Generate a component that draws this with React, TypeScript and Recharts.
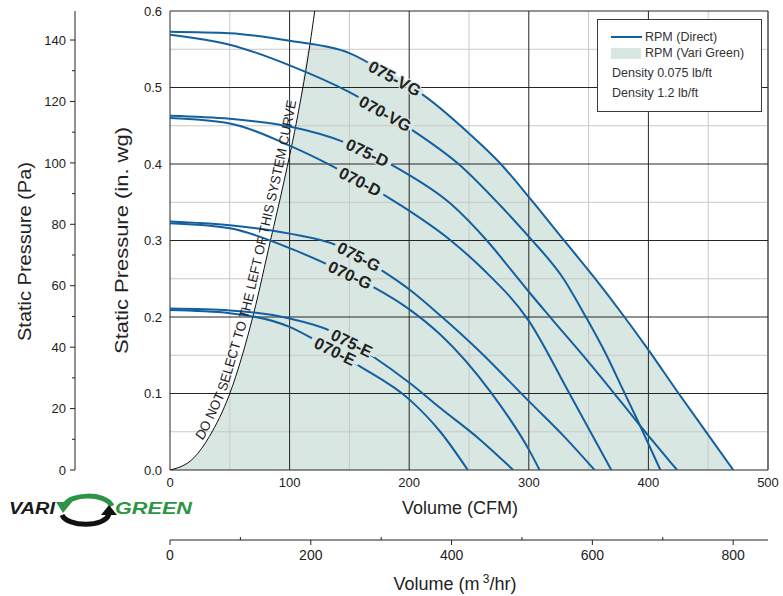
import React from "react";
import {
  Area,
  ComposedChart,
  Legend,
  Line,
  ReferenceDot,
  ReferenceLine,
  XAxis,
  YAxis,
} from "recharts";

type Pt = [number, number];

// volume (CFM) vs static pressure (in. wg)
const rpm075VG: Pt[] = [
  [0, 0.573], [50, 0.571], [100, 0.561], [150, 0.545], [188, 0.512], [210, 0.492],
  [250, 0.44], [276, 0.401], [301, 0.355], [329, 0.301], [355, 0.251], [380, 0.2],
  [400, 0.157], [424, 0.103], [450, 0.046], [471, 0],
];
const rpm070VG: Pt[] = [
  [0, 0.569], [50, 0.556], [100, 0.529], [150, 0.494], [201, 0.446], [242, 0.399],
  [276, 0.346], [300, 0.305], [329, 0.25], [347, 0.202], [365, 0.15], [379, 0.104],
  [390, 0.068], [410, 0],
];
const rpm075D: Pt[] = [
  [0, 0.463], [50, 0.459], [100, 0.449], [145, 0.429], [192, 0.393], [234, 0.349],
  [266, 0.298], [284, 0.264], [300, 0.233], [320, 0.196], [350, 0.141], [372, 0.099],
  [390, 0.064], [424, 0],
];
const rpm070D: Pt[] = [
  [0, 0.46], [50, 0.453], [100, 0.424], [136, 0.397], [192, 0.347], [234, 0.301],
  [262, 0.262], [300, 0.195], [334, 0.1], [369, 0],
];
const rpm075G: Pt[] = [
  [0, 0.325], [50, 0.32], [100, 0.309], [139, 0.294], [158, 0.279], [177, 0.261],
  [201, 0.235], [226, 0.202], [259, 0.155], [300, 0.09], [330, 0.043], [355, 0],
];
const rpm070G: Pt[] = [
  [0, 0.3225], [50, 0.316], [100, 0.29], [150, 0.255], [169, 0.24], [201, 0.209],
  [226, 0.177], [268, 0.102], [301, 0.024], [309, 0],
];
const rpm075E: Pt[] = [
  [0, 0.211], [50, 0.2085], [100, 0.198], [134, 0.182], [152, 0.166], [170, 0.148],
  [201, 0.113], [226, 0.081], [259, 0.04], [287, 0],
];
const rpm070E: Pt[] = [
  [0, 0.209], [50, 0.205], [100, 0.187], [120, 0.171], [138, 0.155], [156, 0.138],
  [201, 0.091], [226, 0.05], [249, 0],
];
const systemCurve: Pt[] = [
  [0, 0], [20, 0.016], [33, 0.044], [50, 0.1], [70, 0.205], [84, 0.3], [95, 0.375],
  [107, 0.465], [117, 0.556], [121, 0.6],
];
// where the system curve meets the 075-VG curve
const SYS_CROSS = 117;

const curveNames = ["075-VG", "070-VG", "075-D", "070-D", "075-G", "070-G", "075-E", "070-E"];
const curvePoints = [rpm075VG, rpm070VG, rpm075D, rpm070D, rpm075G, rpm070G, rpm075E, rpm070E];
// label anchor on each curve: cfm, in. wg, text angle
const labelQ = [188, 180, 165, 159, 158, 150.5, 152, 138];
const labelP = [0.512, 0.466, 0.415, 0.377, 0.279, 0.255, 0.166, 0.155];
const labelAngle = [28, 29, 25, 27, 27, 25, 26, 26];

const cfmTicks = [0, 100, 200, 300, 400, 500];
const cfmMinor = [50, 150, 250, 350, 450];
const wgTicks = [0, 0.1, 0.2, 0.3, 0.4, 0.5, 0.6];
const wgMinor = [0.05, 0.15, 0.25, 0.35, 0.45, 0.55];
const paTicks = [0, 10, 20, 30, 40, 50, 60, 70, 80, 90, 100, 110, 120, 130, 140];
const m3Ticks = [0, 100, 200, 300, 400, 500, 600, 700, 800];
const PA_MAX = 0.6 * 249.09; // 0.6 in. wg
const M3_MAX = 500 * 1.699; // 500 CFM

const legendText = ["RPM (Direct)", "RPM (Vari Green)", "Density 0.075 lb/ft", "Density 1.2 lb/ft"];
const systemText = "DO NOT SELECT TO THE LEFT OF THIS SYSTEM CURVE";

const FONT = '"Liberation Sans", Arial, Helvetica, sans-serif';
const BLUE = "#14609f";
const FILL = "#d9e7e2";
const GREEN = "#2e9445";

const toRows = (pts: Pt[]) => pts.map(([q, p]) => ({ q, p }));

const fillRows = toRows([
  ...systemCurve.filter(([q]) => q <= SYS_CROSS),
  ...rpm075VG.filter(([q]) => q > SYS_CROSS),
]);
// span of the metric axis, so it gets a domain of its own
const m3Span = [{ q: 0, p: 0 }, { q: M3_MAX, p: 0 }];

// pixel size of one CFM / one in. wg for the 598x459 plot
const SX = 598 / 500;
const SY = 459 / 0.6;

function CurveTag({ cx, cy, text, angle }: any) {
  const w = text.length * 9.8 + 4;
  return (
    <g transform={`translate(${cx},${cy}) rotate(${angle})`}>
      <rect x={-w / 2} y={-3} width={w} height={6} fill={FILL} />
      <text
        textAnchor="middle"
        dy="0.36em"
        fontSize={16.5}
        fontWeight="bold"
        fontFamily={FONT}
        fill="#222"
        stroke={FILL}
        strokeWidth={2}
        paintOrder="stroke"
      >
        {text}
      </text>
    </g>
  );
}

function SystemTag({ cx, cy }: any) {
  const d = systemCurve
    .map(([q, p], i) => `${i ? "L" : "M"}${cx + q * SX - 4},${cy - p * SY}`)
    .join(" ");
  return (
    <g>
      <path id="sys-path" d={d} fill="none" stroke="none" />
      <text fontSize={13.5} fontFamily={FONT} fill="#222">
        <textPath href="#sys-path" startOffset={48} textLength={354} lengthAdjust="spacingAndGlyphs">
          {systemText}
        </textPath>
      </text>
    </g>
  );
}

function PaTick({ x, y, payload }: any) {
  const v = payload.value;
  const ax = x + 8;
  if (v % 20 !== 0) return <line x1={ax - 3} x2={ax} y1={y} y2={y} stroke="#222" />;
  return (
    <g>
      <line x1={ax - 5} x2={ax} y1={y} y2={y} stroke="#222" />
      <text x={x - 1} y={y} dy="0.36em" textAnchor="end" fontSize={13} fontFamily={FONT} fill="#222">
        {v}
      </text>
    </g>
  );
}

function M3Tick({ x, y, payload }: any) {
  const v = payload.value;
  const ay = y - 10;
  if (v % 200 !== 0) return <line x1={x} x2={x} y1={ay} y2={ay - 3} stroke="#222" />;
  return (
    <g>
      <line x1={x} x2={x} y1={ay} y2={ay + 5} stroke="#222" />
      <text x={x} y={y} dy="0.71em" textAnchor="middle" fontSize={14} fontFamily={FONT} fill="#222">
        {v}
      </text>
    </g>
  );
}

function YTitle({ viewBox, text, dx, dy, len }: any) {
  const x = viewBox.x + dx;
  const y = viewBox.y + viewBox.height / 2 + dy;
  return (
    <text
      x={x}
      y={y}
      transform={`rotate(-90 ${x} ${y})`}
      textAnchor="middle"
      dy="0.36em"
      fontSize={18}
      fontFamily={FONT}
      fill="#222"
      textLength={len}
      lengthAdjust="spacingAndGlyphs"
    >
      {text}
    </text>
  );
}

function XTitle({ viewBox, dx, dy, children }: any) {
  return (
    <text
      x={viewBox.x + viewBox.width / 2 + dx}
      y={viewBox.y + dy}
      textAnchor="middle"
      dy="0.36em"
      fontSize={18}
      fontFamily={FONT}
      fill="#222"
    >
      {children}
    </text>
  );
}

function LegendBox() {
  const row = (top: number): React.CSSProperties => ({
    position: "absolute",
    top,
    left: 0,
    height: 16,
    lineHeight: "16px",
    whiteSpace: "nowrap",
  });
  return (
    <div
      style={{
        position: "relative",
        boxSizing: "border-box",
        width: 165,
        height: 93,
        border: "1px solid #3a3a3a",
        background: "#fff",
        fontFamily: FONT,
        fontSize: 12.5,
        color: "#333",
      }}
    >
      <div style={row(9)}>
        <span style={{ position: "absolute", left: 13, top: 7, width: 31, height: 2, background: BLUE }} />
        <span style={{ position: "absolute", left: 47 }}>{legendText[0]}</span>
      </div>
      <div style={row(25)}>
        <span style={{ position: "absolute", left: 13, top: 3, width: 30, height: 11, background: FILL }} />
        <span style={{ position: "absolute", left: 47 }}>{legendText[1]}</span>
      </div>
      <div style={row(45)}>
        <span style={{ position: "absolute", left: 14 }}>{legendText[2]}</span>
      </div>
      <div style={row(65)}>
        <span style={{ position: "absolute", left: 14 }}>{legendText[3]}</span>
      </div>
    </div>
  );
}

function Logo() {
  return (
    <svg width={200} height={40} style={{ position: "absolute", left: 5, top: 490 }}>
      <text x={4} y={24} fontFamily={FONT} fontStyle="italic" fontWeight="bold" fontSize={16}
        fill="#1a1a1a" textLength={46} lengthAdjust="spacingAndGlyphs">VARI</text>
      <path d="M60 15 C64 4, 100 2, 107 16" stroke={GREEN} strokeWidth={5} fill="none" />
      <polygon points="51,12 67,12 58,23" fill={GREEN} />
      <path d="M57 25 C62 37, 100 38, 104 24" stroke="#111" strokeWidth={5} fill="none" />
      <polygon points="96,25 112,25 104,15" fill="#111" />
      <text x={110} y={24} fontFamily={FONT} fontStyle="italic" fontWeight="bold" fontSize={16}
        fill={GREEN} textLength={77} lengthAdjust="spacingAndGlyphs">GREEN</text>
    </svg>
  );
}

const tickStyle = { fontSize: 13, fill: "#222", fontFamily: FONT };

export default function App() {
  return (
    <div style={{ position: "absolute", left: 0, top: 0, width: 783, height: 596, background: "#fff" }}>
      <ComposedChart width={783} height={596} margin={{ top: 11, right: 15, bottom: 0, left: 0 }}>
        <XAxis
          xAxisId="cfm"
          type="number"
          dataKey="q"
          domain={[0, 500]}
          ticks={cfmTicks}
          height={70}
          axisLine={false}
          tickLine={false}
          tickSize={6}
          tickMargin={2}
          tick={tickStyle}
          allowDataOverflow
          label={{ content: (p: any) => <XTitle viewBox={p.viewBox} dx={-9} dy={38}>Volume (CFM)</XTitle> }}
        />
        <XAxis
          xAxisId="m3"
          type="number"
          dataKey="q"
          domain={[0, M3_MAX]}
          ticks={m3Ticks}
          height={56}
          axisLine={{ stroke: "#222" }}
          tickLine={false}
          tickSize={0}
          tickMargin={10}
          tick={<M3Tick />}
          allowDataOverflow
          label={{
            content: (p: any) => (
              <XTitle viewBox={p.viewBox} dx={-14} dy={44}>
                Volume (m<tspan dy={-7} fontSize={12}> 3</tspan><tspan dy={7}>/hr)</tspan>
              </XTitle>
            ),
          }}
        />
        <YAxis
          yAxisId="pa"
          type="number"
          domain={[0, PA_MAX]}
          ticks={paTicks}
          width={75}
          axisLine={{ stroke: "#222" }}
          tickLine={false}
          tickSize={0}
          tickMargin={8}
          tick={<PaTick />}
          allowDataOverflow
          label={{ content: (p: any) => <YTitle viewBox={p.viewBox} text="Static Pressure (Pa)" dx={25} dy={11} len={179} /> }}
        />
        <YAxis
          yAxisId="in"
          type="number"
          domain={[0, 0.6]}
          ticks={wgTicks}
          width={95}
          axisLine={false}
          tickLine={false}
          tickFormatter={(v: number) => v.toFixed(1)}
          tick={tickStyle}
          allowDataOverflow
          label={{ content: (p: any) => <YTitle viewBox={p.viewBox} text="Static Pressure (in. wg)" dx={47} dy={0} len={227} /> }}
        />

        <Area
          xAxisId="cfm"
          yAxisId="in"
          data={fillRows}
          dataKey="p"
          type="monotone"
          fill={FILL}
          fillOpacity={1}
          stroke="none"
          isAnimationActive={false}
        />
        <Line
          xAxisId="m3"
          yAxisId="in"
          data={m3Span}
          dataKey="p"
          stroke="none"
          dot={false}
          legendType="none"
          isAnimationActive={false}
        />

        {cfmMinor.map((v) => (
          <ReferenceLine key={`xm${v}`} xAxisId="cfm" yAxisId="in" x={v} stroke="#c8c8c8" />
        ))}
        {wgMinor.map((v) => (
          <ReferenceLine key={`ym${v}`} xAxisId="cfm" yAxisId="in" y={v} stroke="#c8c8c8" />
        ))}
        {cfmTicks.map((v) => (
          <ReferenceLine key={`xM${v}`} xAxisId="cfm" yAxisId="in" x={v}
            stroke={v === 500 ? "#777" : "#262626"} strokeWidth={v === 500 ? 2 : 1} />
        ))}
        {wgTicks.map((v) => (
          <ReferenceLine key={`yM${v}`} xAxisId="cfm" yAxisId="in" y={v} stroke="#262626" />
        ))}

        <Line
          xAxisId="cfm"
          yAxisId="in"
          data={toRows(systemCurve)}
          dataKey="p"
          type="monotone"
          stroke="#111"
          strokeWidth={1}
          dot={false}
          isAnimationActive={false}
        />
        {curvePoints.map((pts, i) => (
          <Line
            key={curveNames[i]}
            xAxisId="cfm"
            yAxisId="in"
            data={toRows(pts)}
            dataKey="p"
            name={curveNames[i]}
            type="monotone"
            stroke={BLUE}
            strokeWidth={2}
            dot={false}
            isAnimationActive={false}
          />
        ))}

        {curveNames.map((name, i) => (
          <ReferenceDot
            key={`lbl${name}`}
            xAxisId="cfm"
            yAxisId="in"
            x={labelQ[i]}
            y={labelP[i]}
            r={0}
            shape={(s: any) => <CurveTag cx={s.cx} cy={s.cy} text={name} angle={labelAngle[i]} />}
          />
        ))}
        <ReferenceDot
          xAxisId="cfm"
          yAxisId="in"
          x={0}
          y={0}
          r={0}
          shape={(s: any) => <SystemTag cx={s.cx} cy={s.cy} />}
        />

        <Legend
          layout="vertical"
          align="center"
          verticalAlign="middle"
          wrapperStyle={{ left: 597, top: 19, width: 165, height: 93 }}
          content={() => <LegendBox />}
        />
      </ComposedChart>
      <Logo />
    </div>
  );
}
